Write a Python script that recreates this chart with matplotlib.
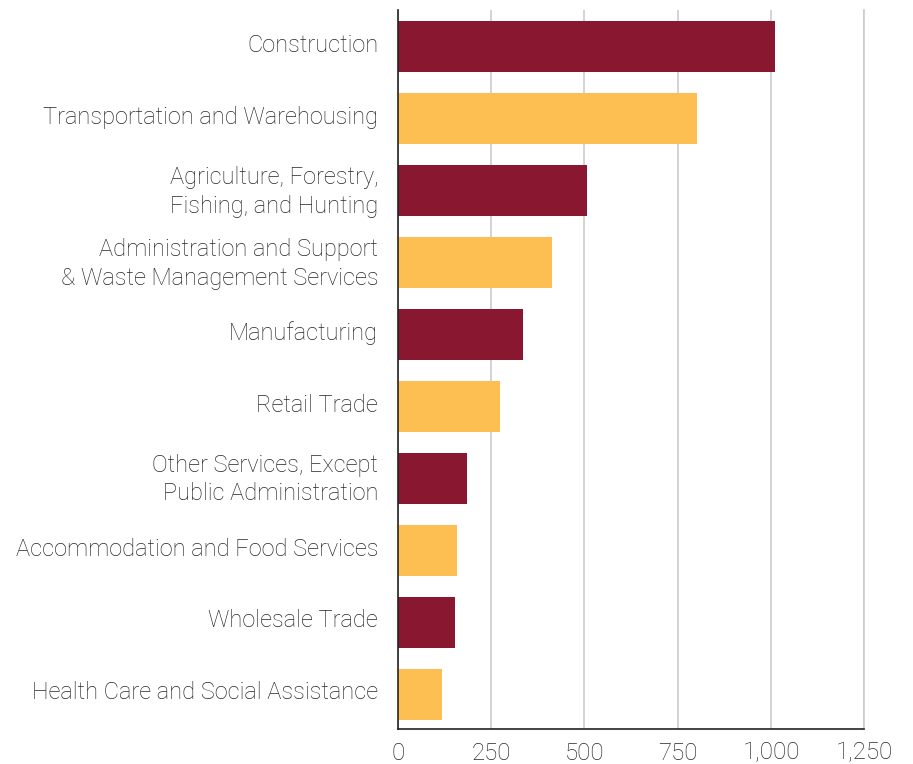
import matplotlib
matplotlib.use("Agg")
import matplotlib.pyplot as plt
import matplotlib.transforms as mtransforms

industries = [
    "Construction",
    "Transportation and Warehousing",
    "Agriculture, Forestry,\nFishing, and Hunting",
    "Administration and Support\n& Waste Management Services",
    "Manufacturing",
    "Retail Trade",
    "Other Services, Except\nPublic Administration",
    "Accommodation and Food Services",
    "Wholesale Trade",
    "Health Care and Social Assistance",
]
values = [1011, 801, 507, 414, 336, 274, 186, 159, 153, 119]
x_ticks = [0, 250, 500, 750, 1000, 1250]

MAROON = "#8a1730"
GOLD = "#fdbf52"
TEXT = "#262626"

plt.rcParams["font.family"] = ["Roboto", "DejaVu Sans"]

fig = plt.figure(figsize=(9.13, 7.64), dpi=100)
ax = fig.add_axes([0.4356, 0.0458, 0.5111, 0.9411])

colors = [MAROON if i % 2 == 0 else GOLD for i in range(len(values))]
ax.barh(range(len(values)), values, height=0.71, color=colors, zorder=2)

ax.set_ylim(9.48, -0.51)
ax.set_xlim(0, 1250)
ax.set_xticks(x_ticks)
ax.set_xticklabels([f"{t:,}" for t in x_ticks], fontsize=17.3,
                   fontweight="light", color=TEXT)
ax.set_yticks(range(len(industries)))
ax.set_yticklabels([])

# category labels: right-aligned left of the axis, nudged up a few pixels
label_tr = ax.get_yaxis_transform() + mtransforms.ScaledTranslation(
    -0.195, 0.04, fig.dpi_scale_trans)
for i, name in enumerate(industries):
    ax.text(0, i, name, transform=label_tr, ha="right", va="center_baseline",
            fontsize=17, fontweight="light", color=TEXT, linespacing=1.3,
            multialignment="right")

ax.tick_params(axis="y", length=0)
ax.tick_params(axis="x", length=0, pad=9)
ax.xaxis.grid(True, color="#cccccc", linewidth=1.2, zorder=0)

ax.spines["top"].set_visible(False)
ax.spines["right"].set_color("#cccccc")
ax.spines["right"].set_linewidth(1.2)
ax.spines["left"].set_color("#222222")
ax.spines["bottom"].set_color("#222222")
ax.spines["left"].set_linewidth(1.2)
ax.spines["bottom"].set_linewidth(1.2)
ax.spines["left"].set_zorder(3)

fig.savefig("out.png", dpi=100, facecolor="white")
